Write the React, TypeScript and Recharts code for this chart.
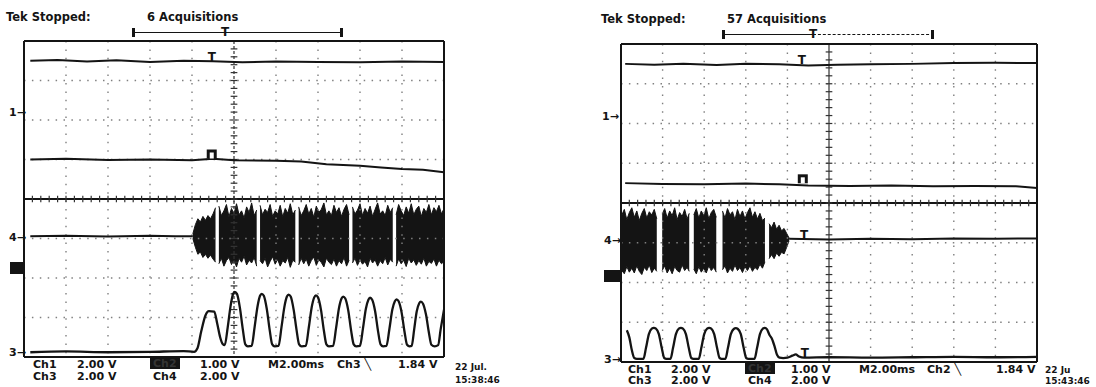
import { Area, ComposedChart, Line, ReferenceDot, ReferenceLine, XAxis, YAxis } from 'recharts'

// scope traces, in divisions (x: 0..10, y: 0..8)
const L_CH1 = [[0.15, 7.5], [0.8, 7.52], [1.5, 7.48], [2.2, 7.51], [3.0, 7.47], [3.8, 7.5], [4.5, 7.49], [5.2, 7.46], [6.0, 7.48], [7.0, 7.47], [8.0, 7.46], [9.0, 7.48], [10, 7.47]]
const L_CH2 = [[0.15, 5.0], [1, 5.02], [2, 4.99], [3, 5.0], [4, 4.98], [4.5, 5.02], [5, 4.98], [6, 4.97], [6.6, 4.95], [7.2, 4.88], [8, 4.84], [8.5, 4.8], [9, 4.76], [9.5, 4.74], [10, 4.68]]
const L_CH4 = [[0.15, 3.06], [1, 3.07], [2, 3.05], [3, 3.07], [3.6, 3.06], [4.02, 3.06]]
// noise burst envelope: [x, low, high]; a lone x is a gap in the burst
const L_NOISE = [
  [4.02, 3.0, 3.12], [4.08, 2.78, 3.35], [4.14, 2.6, 3.5], [4.2, 2.66, 3.42], [4.26, 2.52, 3.56], [4.32, 2.6, 3.46],
  [4.38, 2.5, 3.58], [4.44, 2.58, 3.5], [4.5, 2.48, 3.62], [4.56, 2.4, 3.78], [4.6], [4.64, 2.36, 3.82],
  [4.7, 2.5, 3.58], [4.76, 2.3, 3.7], [4.82, 2.44, 3.86], [4.88, 2.52, 3.55], [4.94, 2.34, 3.76], [5.0, 2.46, 3.62],
  [5.06, 2.28, 3.88], [5.12, 2.5, 3.6], [5.18, 2.4, 3.7], [5.24, 2.55, 3.52], [5.3, 2.33, 3.8], [5.36, 2.45, 3.66],
  [5.42, 2.38, 3.9], [5.48, 2.52, 3.58], [5.54, 2.3, 3.72], [5.58], [5.62, 2.44, 3.84], [5.68, 2.36, 3.6],
  [5.74, 2.5, 3.74], [5.8, 2.28, 3.66], [5.86, 2.42, 3.86], [5.92, 2.54, 3.56], [5.98, 2.35, 3.7], [6.04, 2.47, 3.62],
  [6.1, 2.3, 3.84], [6.16, 2.44, 3.55], [6.22, 2.38, 3.76], [6.28, 2.52, 3.64], [6.34, 2.27, 3.88], [6.4, 2.45, 3.6],
  [6.46, 2.4, 3.72], [6.5], [6.54, 2.33, 3.8], [6.6, 2.5, 3.58], [6.66, 2.36, 3.7], [6.72, 2.48, 3.86],
  [6.78, 2.3, 3.62], [6.84, 2.44, 3.76], [6.9, 2.53, 3.54], [6.96, 2.32, 3.82], [7.02, 2.46, 3.66], [7.08, 2.39, 3.74],
  [7.14, 2.28, 3.9], [7.2, 2.5, 3.6], [7.26, 2.4, 3.7], [7.32, 2.34, 3.58], [7.38, 2.48, 3.84], [7.44, 2.3, 3.66],
  [7.5, 2.44, 3.78], [7.56, 2.36, 3.56], [7.62, 2.52, 3.74], [7.68, 2.3, 3.86], [7.74, 2.45, 3.6], [7.78],
  [7.82, 2.38, 3.8], [7.88, 2.5, 3.62], [7.94, 2.32, 3.72], [8.0, 2.46, 3.88], [8.06, 2.35, 3.58], [8.12, 2.42, 3.76],
  [8.18, 2.28, 3.64], [8.24, 2.5, 3.82], [8.3, 2.38, 3.56], [8.36, 2.46, 3.74], [8.42, 2.3, 3.9], [8.48, 2.44, 3.62],
  [8.54, 2.36, 3.7], [8.6, 2.52, 3.58], [8.66, 2.33, 3.84], [8.72, 2.47, 3.66], [8.78, 2.4, 3.78], [8.82],
  [8.86, 2.3, 3.6], [8.92, 2.48, 3.86], [8.98, 2.36, 3.7], [9.04, 2.45, 3.58], [9.1, 2.29, 3.8], [9.16, 2.5, 3.64],
  [9.22, 2.38, 3.88], [9.28, 2.46, 3.6], [9.34, 2.32, 3.74], [9.4, 2.44, 3.82], [9.46, 2.35, 3.56], [9.52, 2.5, 3.76],
  [9.58, 2.3, 3.66], [9.64, 2.42, 3.86], [9.7, 2.37, 3.6], [9.76, 2.48, 3.78], [9.82, 2.3, 3.68], [9.88, 2.45, 3.84],
  [9.94, 2.36, 3.62], [10, 2.42, 3.76],
]
const L_CH3 = [
  [0.15, 0.12], [1, 0.14], [2, 0.12], [3, 0.13], [3.8, 0.15], [4.05, 0.13], [4.13, 0.22], [4.22, 0.65], [4.32, 1.05],
  [4.4, 1.16], [4.53, 1.15], [4.6, 0.85], [4.67, 0.5], [4.73, 0.33],
  [4.78, 0.3], [4.85, 0.75], [4.92, 1.3], [4.98, 1.6], [5.02, 1.65], [5.07, 1.6], [5.14, 1.25], [5.21, 0.7], [5.27, 0.32], [5.33, 0.27],
  [5.42, 0.28], [5.49, 0.75], [5.56, 1.28], [5.62, 1.55], [5.66, 1.6], [5.71, 1.55], [5.78, 1.22], [5.85, 0.68], [5.91, 0.32], [5.97, 0.27],
  [6.06, 0.28], [6.13, 0.75], [6.2, 1.27], [6.26, 1.53], [6.3, 1.58], [6.35, 1.53], [6.42, 1.2], [6.49, 0.68], [6.55, 0.32], [6.61, 0.27],
  [6.71, 0.28], [6.78, 0.74], [6.85, 1.26], [6.91, 1.51], [6.95, 1.56], [7.0, 1.51], [7.07, 1.2], [7.14, 0.67], [7.2, 0.32], [7.26, 0.27],
  [7.36, 0.28], [7.43, 0.73], [7.5, 1.24], [7.56, 1.48], [7.6, 1.53], [7.65, 1.48], [7.72, 1.18], [7.79, 0.66], [7.85, 0.32], [7.91, 0.27],
  [8.0, 0.28], [8.07, 0.72], [8.14, 1.22], [8.2, 1.45], [8.24, 1.5], [8.29, 1.45], [8.36, 1.16], [8.43, 0.65], [8.49, 0.32], [8.55, 0.27],
  [8.63, 0.28], [8.7, 0.71], [8.77, 1.2], [8.83, 1.41], [8.87, 1.46], [8.92, 1.41], [8.99, 1.13], [9.06, 0.64], [9.12, 0.31], [9.18, 0.27],
  [9.23, 0.28], [9.29, 0.7], [9.35, 1.15], [9.41, 1.36], [9.45, 1.4], [9.5, 1.35], [9.57, 1.08], [9.64, 0.62], [9.7, 0.31], [9.78, 0.27],
  [9.86, 0.3], [9.92, 0.7], [10, 1.2],
]

const R_CH1 = [[0.1, 7.5], [0.8, 7.48], [1.5, 7.5], [2.3, 7.47], [3, 7.5], [3.8, 7.49], [4.5, 7.46], [5.2, 7.48], [6, 7.49], [7, 7.5], [8, 7.52], [9, 7.53], [10, 7.52]]
const R_CH2 = [[0.1, 4.5], [1, 4.48], [2, 4.47], [3, 4.49], [3.8, 4.47], [4.5, 4.44], [5.5, 4.43], [6.5, 4.44], [7.5, 4.42], [8.5, 4.43], [9.5, 4.42], [10, 4.38]]
const R_CH4 = [[4.04, 3.1], [5, 3.08], [6, 3.1], [7, 3.09], [8, 3.11], [9, 3.1], [10, 3.11]]
const R_NOISE = [
  [0.02, 2.3, 3.7], [0.08, 2.22, 3.84], [0.14, 2.4, 3.58], [0.2, 2.26, 3.76], [0.26, 2.36, 3.88], [0.32, 2.24, 3.64],
  [0.38, 2.42, 3.8], [0.44, 2.28, 3.56], [0.5, 2.2, 3.74], [0.56, 2.38, 3.86], [0.62, 2.3, 3.62], [0.68, 2.44, 3.78],
  [0.74, 2.25, 3.7], [0.8, 2.36, 3.84], [0.86, 2.28, 3.6], [0.93], [0.99, 2.3, 3.72], [1.05, 2.42, 3.86],
  [1.11, 2.24, 3.62], [1.17, 2.36, 3.8], [1.23, 2.22, 3.68], [1.29, 2.4, 3.88], [1.35, 2.3, 3.58], [1.41, 2.26, 3.76],
  [1.47, 2.44, 3.66], [1.53, 2.3, 3.84], [1.59, 2.38, 3.6], [1.64, 2.28, 3.74], [1.69], [1.75, 2.34, 3.7],
  [1.81, 2.22, 3.86], [1.87, 2.4, 3.62], [1.93, 2.26, 3.8], [1.99, 2.36, 3.68], [2.05, 2.24, 3.88], [2.11, 2.42, 3.6],
  [2.17, 2.3, 3.76], [2.23, 2.38, 3.84], [2.29, 2.26, 3.64], [2.38], [2.44, 2.32, 3.8], [2.5, 2.42, 3.62],
  [2.56, 2.24, 3.86], [2.62, 2.36, 3.7], [2.68, 2.28, 3.78], [2.74, 2.44, 3.58], [2.8, 2.3, 3.84], [2.86, 2.38, 3.66],
  [2.92, 2.25, 3.8], [2.98, 2.4, 3.6], [3.04, 2.3, 3.76], [3.1, 2.42, 3.88], [3.16, 2.28, 3.64], [3.22, 2.38, 3.78],
  [3.28, 2.32, 3.6], [3.34, 2.46, 3.74], [3.4, 2.36, 3.56], [3.46, 2.52, 3.62], [3.51], [3.56, 2.6, 3.48],
  [3.62, 2.7, 3.38], [3.68, 2.6, 3.52], [3.74, 2.74, 3.34], [3.8, 2.66, 3.44], [3.86, 2.76, 3.3], [3.92, 2.72, 3.36],
  [3.98, 2.88, 3.24], [4.04, 3.05, 3.12],
]
const R_CH3 = [
  [0.14, 0.8], [0.2, 0.62], [0.26, 0.3], [0.32, 0.1], [0.38, 0.08],
  [0.54, 0.08], [0.6, 0.35], [0.67, 0.7], [0.74, 0.84], [0.79, 0.86], [0.84, 0.84], [0.91, 0.7], [0.98, 0.35], [1.04, 0.1], [1.09, 0.08],
  [1.19, 0.08], [1.25, 0.35], [1.32, 0.7], [1.39, 0.84], [1.44, 0.86], [1.49, 0.84], [1.56, 0.7], [1.63, 0.35], [1.69, 0.1], [1.74, 0.08],
  [1.87, 0.08], [1.93, 0.35], [2.0, 0.7], [2.07, 0.84], [2.12, 0.86], [2.17, 0.84], [2.24, 0.7], [2.31, 0.35], [2.37, 0.1], [2.42, 0.08],
  [2.51, 0.08], [2.57, 0.35], [2.64, 0.7], [2.71, 0.83], [2.76, 0.85], [2.81, 0.83], [2.88, 0.7], [2.95, 0.35], [3.01, 0.1], [3.06, 0.08],
  [3.21, 0.08], [3.27, 0.35], [3.34, 0.7], [3.41, 0.84], [3.46, 0.86], [3.51, 0.82], [3.57, 0.68], [3.63, 0.58], [3.69, 0.4], [3.75, 0.18],
  [3.81, 0.11], [3.9, 0.1], [4.0, 0.11], [4.12, 0.16], [4.2, 0.19], [4.28, 0.14], [4.4, 0.11], [5, 0.12],
  [6, 0.11], [7, 0.12], [8, 0.13], [9, 0.12], [10, 0.13],
]

// trigger / reference glyphs sitting on the traces
const L_MARKS = [{ x: 4.47, y: 7.5, kind: 'T' }, { x: 4.47, y: 5.0, kind: 'sq' }]
const R_MARKS = [
  { x: 4.35, y: 7.5, kind: 'T' }, { x: 4.37, y: 4.47, kind: 'sq' },
  { x: 4.4, y: 3.1, kind: 'T' }, { x: 4.42, y: 0.12, kind: 'T' },
]

const minorX = Array.from({ length: 51 }, (_, i) => +(i * 0.2).toFixed(1))
const minorY = Array.from({ length: 41 }, (_, i) => +(i * 0.2).toFixed(1))
const gridX = [1, 2, 3, 4, 6, 7, 8, 9]
const gridY = [1, 2, 3, 5, 6, 7]

const INK = '#141414'
const pts = (rows: number[][]) => rows.map(([x, y]) => ({ x, y }))
const band = (rows: number[][]) => rows.map((r) => ({ x: r[0], v: r.length > 1 ? [r[1], r[2]] : null }))

function Marker(props: any) {
  const { cx, cy, kind } = props
  if (kind === 'sq') {
    return (
      <g>
        <rect x={cx - 5} y={cy - 10} width={10} height={9} fill={INK} />
        <rect x={cx - 2} y={cy - 7} width={4} height={6} fill="#fff" />
      </g>
    )
  }
  return (
    <text x={cx} y={cy} textAnchor="middle" fontSize={12} fontWeight="bold" fontFamily="DejaVu Sans" fill={INK}>
      T
    </text>
  )
}

interface PanelProps {
  width:   number
  margin:  { top: number; left: number; right: number; bottom: number }
  ch1:     number[][]
  ch2:     number[][]
  ch4:     number[][]
  noise:   number[][]
  ch3:     number[][]
  marks:   { x: number; y: number; kind: string }[]
  vDash?:  string
}

function ScopePanel({ width, margin, ch1, ch2, ch4, noise, ch3, marks, vDash }: PanelProps) {
  const frame = { stroke: INK, strokeWidth: 2 }
  const tl = { stroke: INK, strokeWidth: 1 }
  return (
    <ComposedChart width={width} height={387} margin={margin}>
      <XAxis type="number" dataKey="x" domain={[0, 10]} ticks={minorX} orientation="top" mirror tick={false}
        tickSize={4} axisLine={frame} tickLine={tl} allowDataOverflow />
      <XAxis xAxisId="b" type="number" dataKey="x" domain={[0, 10]} ticks={minorX} orientation="bottom" mirror
        tick={false} tickSize={4} axisLine={frame} tickLine={tl} allowDataOverflow />
      <YAxis type="number" domain={[0, 8]} ticks={minorY} mirror tick={false} tickSize={4}
        axisLine={frame} tickLine={tl} allowDataOverflow />
      <YAxis yAxisId="r" orientation="right" type="number" domain={[0, 8]} ticks={minorY} mirror tick={false}
        tickSize={4} axisLine={frame} tickLine={tl} allowDataOverflow />

      {gridX.map((x) => (
        <ReferenceLine key={'gx' + x} x={x} stroke="#808080" strokeWidth={1.4} strokeDasharray="1.5 6.9" />
      ))}
      {gridY.map((y) => (
        <ReferenceLine key={'gy' + y} y={y} stroke="#808080" strokeWidth={1.4} strokeDasharray="1.5 6.4" />
      ))}
      <ReferenceLine x={5} stroke="#333" strokeWidth={1.2} strokeDasharray={vDash} />
      <ReferenceLine y={4} stroke={INK} strokeWidth={1.8} />
      {minorY.slice(1, -1).map((y) => (
        <ReferenceLine key={'cy' + y} segment={[{ x: 4.92, y }, { x: 5.08, y }]} stroke="#333" strokeWidth={1.2} />
      ))}
      {minorX.slice(1, -1).map((x) => (
        <ReferenceLine key={'cx' + x} segment={[{ x, y: 3.92 }, { x, y: 4.08 }]} stroke="#333" strokeWidth={1.2} />
      ))}

      <Line data={pts(ch1)} dataKey="y" type="linear" stroke={INK} strokeWidth={2} dot={false} isAnimationActive={false} />
      <Line data={pts(ch2)} dataKey="y" type="linear" stroke={INK} strokeWidth={2} dot={false} isAnimationActive={false} />
      <Line data={pts(ch4)} dataKey="y" type="linear" stroke={INK} strokeWidth={2} dot={false} isAnimationActive={false} />
      <Area data={band(noise)} dataKey="v" type="linear" stroke={INK} strokeWidth={1} fill={INK} fillOpacity={1}
        connectNulls={false} isAnimationActive={false} />
      <Line data={pts(ch3)} dataKey="y" type="monotone" stroke={INK} strokeWidth={2.3} dot={false} isAnimationActive={false} />

      {marks.map((m, i) => (
        <ReferenceDot key={'m' + i} x={m.x} y={m.y} r={0} shape={(p: any) => <Marker {...p} kind={m.kind} />} />
      ))}
    </ComposedChart>
  )
}

const txt = (left: number, top: number, extra: any = {}) => ({
  position: 'absolute' as const, left, top, fontSize: 11, fontWeight: 'bold', lineHeight: '11px',
  whiteSpace: 'nowrap' as const, color: INK, ...extra,
})

function Bracket({ x1, x2, t, top, dashRight }: { x1: number; x2: number; t: number; top: number; dashRight?: boolean }) {
  return (
    <>
      <div style={{ position: 'absolute', left: x1, top: top - 4, width: 3, height: 9, background: INK }} />
      <div style={{ position: 'absolute', left: x2 - 3, top: top - 4, width: 3, height: 9, background: INK }} />
      <div style={{ position: 'absolute', left: x1, top, width: t - x1, borderTop: `1.5px solid ${INK}` }} />
      <div style={{ position: 'absolute', left: t, top, width: x2 - t, borderTop: `1.5px ${dashRight ? 'dashed' : 'solid'} ${INK}` }} />
      <div style={txt(t - 4, top - 5, { fontSize: 12 })}>T</div>
    </>
  )
}

export default function App() {
  return (
    <div style={{ position: 'fixed', left: 0, top: 0, width: 1096, height: 387, background: '#fff',
      overflow: 'hidden', fontFamily: '"DejaVu Sans", sans-serif' }}>
      <div style={{ position: 'absolute', left: 0, top: 0 }}>
        <ScopePanel width={470} margin={{ top: 41, left: 24, right: 26, bottom: 30 }}
          ch1={L_CH1} ch2={L_CH2} ch4={L_CH4} noise={L_NOISE} ch3={L_CH3} marks={L_MARKS} vDash="3 2" />
      </div>
      <div style={{ position: 'absolute', left: 560, top: 0 }}>
        <ScopePanel width={500} margin={{ top: 44, left: 61, right: 23, bottom: 25 }}
          ch1={R_CH1} ch2={R_CH2} ch4={R_CH4} noise={R_NOISE} ch3={R_CH3} marks={R_MARKS} />
      </div>

      {/* left panel text */}
      <div style={txt(6, 12, { fontSize: 11.5 })}>Tek Stopped:</div>
      <div style={txt(147, 12, { fontSize: 11.5 })}>6 Acquisitions</div>
      <Bracket x1={132} x2={343} t={225} top={32} />
      <div style={txt(9, 107)}>1→</div>
      <div style={txt(9, 232)}>4→</div>
      <div style={{ position: 'absolute', left: 10, top: 262, width: 13, height: 12, background: INK }} />
      <div style={txt(9, 347)}>3→</div>
      <div style={txt(33, 359)}>Ch1</div>
      <div style={txt(77, 359)}>2.00 V</div>
      <div style={txt(150, 358, { background: INK, color: '#333', padding: '0 3px' })}>Ch2</div>
      <div style={txt(200, 359)}>1.00 V</div>
      <div style={txt(268, 359)}>M2.00ms</div>
      <div style={txt(337, 359)}>Ch3 ╲</div>
      <div style={txt(398, 359)}>1.84 V</div>
      <div style={txt(33, 371)}>Ch3</div>
      <div style={txt(77, 371)}>2.00 V</div>
      <div style={txt(153, 371)}>Ch4</div>
      <div style={txt(200, 371)}>2.00 V</div>
      <div style={txt(455, 362, { fontSize: 9 })}>22 Jul.</div>
      <div style={txt(455, 375, { fontSize: 9 })}>15:38:46</div>

      {/* right panel text */}
      <div style={txt(601, 14, { fontSize: 11.5 })}>Tek Stopped:</div>
      <div style={txt(727, 14, { fontSize: 11.5 })}>57 Acquisitions</div>
      <Bracket x1={722} x2={934} t={813} top={34} dashRight />
      <div style={txt(602, 111)}>1→</div>
      <div style={txt(604, 235)}>4→</div>
      <div style={{ position: 'absolute', left: 604, top: 270, width: 17, height: 12, background: INK }} />
      <div style={txt(604, 354)}>3→</div>
      <div style={txt(628, 364)}>Ch1</div>
      <div style={txt(671, 364)}>2.00 V</div>
      <div style={txt(745, 363, { background: INK, color: '#333', padding: '0 3px' })}>Ch2</div>
      <div style={txt(791, 364)}>1.00 V</div>
      <div style={txt(859, 364)}>M2.00ms</div>
      <div style={txt(927, 364)}>Ch2 ╲</div>
      <div style={txt(996, 364)}>1.84 V</div>
      <div style={txt(628, 375)}>Ch3</div>
      <div style={txt(671, 375)}>2.00 V</div>
      <div style={txt(748, 375)}>Ch4</div>
      <div style={txt(791, 375)}>2.00 V</div>
      <div style={txt(1045, 365, { fontSize: 9 })}>22 Ju</div>
      <div style={txt(1045, 376, { fontSize: 9 })}>15:43:46</div>
    </div>
  )
}
